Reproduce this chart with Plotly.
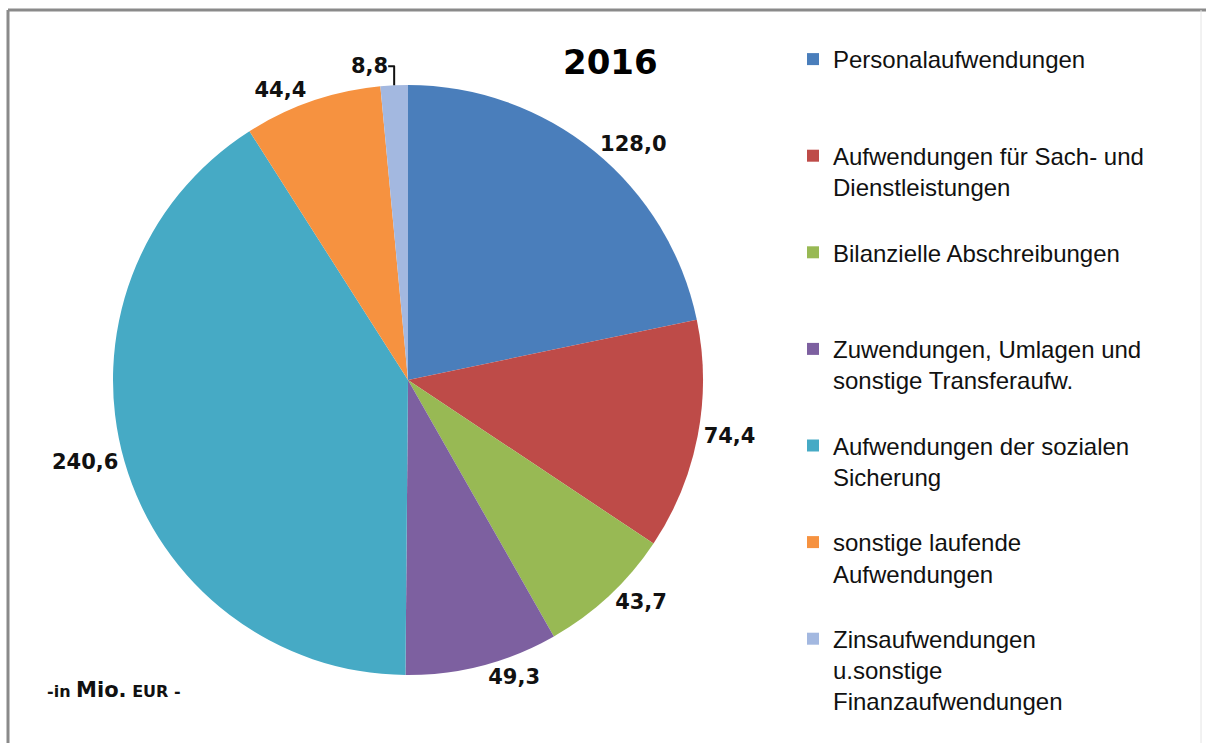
import plotly.graph_objects as go

categories = [
    "Personalaufwendungen<br> <br> ",
    "Aufwendungen für Sach- und<br>Dienstleistungen<br> ",
    "Bilanzielle Abschreibungen<br> <br> ",
    "Zuwendungen, Umlagen und<br>sonstige Transferaufw.<br> ",
    "Aufwendungen der sozialen<br>Sicherung<br> ",
    "sonstige laufende<br>Aufwendungen<br> ",
    "Zinsaufwendungen<br>u.sonstige<br>Finanzaufwendungen",
]
values = [128.0, 74.4, 43.7, 49.3, 240.6, 44.4, 8.8]
colors = ["#4a7ebb", "#be4b48", "#98b954", "#7d60a0", "#46aac5", "#f69240", "#a3b8e0"]

W, H = 1206, 743

fig = go.Figure()
fig.add_trace(go.Pie(
    labels=categories,
    values=values,
    sort=False,
    direction="clockwise",
    rotation=0,
    marker=dict(colors=colors, line=dict(width=0)),
    textposition="outside",
    texttemplate="%{value:.1f}",
    textfont=dict(family="DejaVu Sans", size=21, color="#111111", weight="bold"),
    domain=dict(x=[113/W, 703/W], y=[1-675/H, 1-85/H]),
    hoverinfo="label+value",
))

fig.update_layout(
    width=W, height=H,
    margin=dict(l=0, r=0, t=0, b=0),
    paper_bgcolor="white",
    separators=",.",
    showlegend=True,
    legend=dict(
        x=793/W, y=1-37/H, xanchor="left", yanchor="top",
        font=dict(family="Liberation Sans, Arial", size=24, color="#111111"),
        valign="top",
        bgcolor="rgba(0,0,0,0)",
    ),
    annotations=[
        dict(text="<b>2016</b>", x=610/W, y=1-62/H, xref="paper", yref="paper",
             xanchor="center", yanchor="middle",
             showarrow=False, font=dict(family="DejaVu Sans", size=34, color="#000000")),
        dict(text="<b>-in <span style='font-size:21px'>Mio.</span> EUR -</b>",
             x=45/W, y=1-690/H, xref="paper", yref="paper", xanchor="left", yanchor="middle",
             showarrow=False, font=dict(family="DejaVu Sans", size=16, color="#111111")),
    ],
    shapes=[
        dict(type="line", xref="paper", yref="paper", x0=8/W, x1=1.0, y0=1-10/H, y1=1-10/H,
             line=dict(color="#8a8a8a", width=3)),
        dict(type="line", xref="paper", yref="paper", x0=8/W, x1=8/W, y0=0, y1=1-10/H,
             line=dict(color="#8a8a8a", width=3)),
        dict(type="line", xref="paper", yref="paper", x0=1201/W, x1=1201/W, y0=0, y1=1-10/H,
             line=dict(color="#e4e4e4", width=1)),
    ],
)

fig.write_html("out.html", config={"displayModeBar": False},
               post_script="document.body.style.margin='0';")
